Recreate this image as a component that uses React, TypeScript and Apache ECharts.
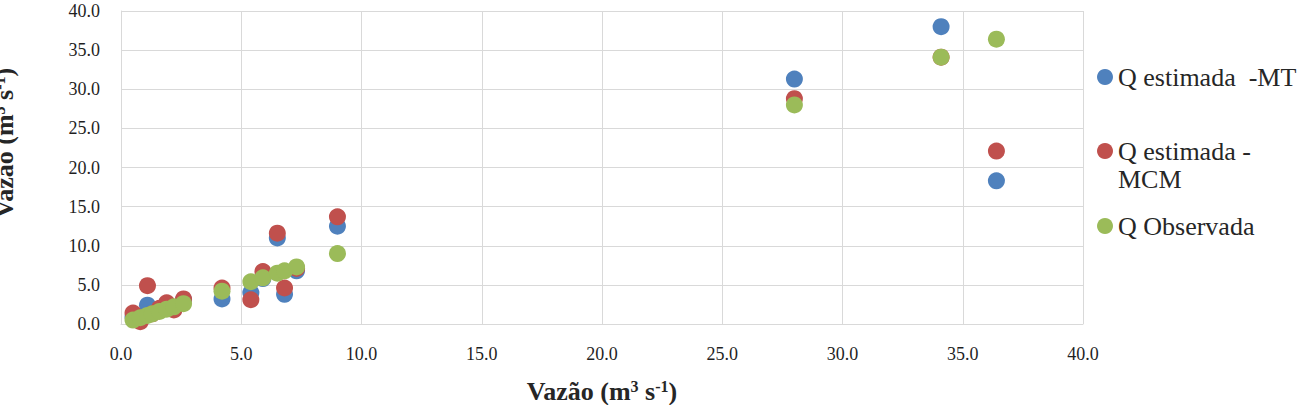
import React, { useEffect, useRef } from "react";
import * as echarts from "echarts";

// Observed discharge (x) and estimated discharges (y)
const obs = [0.5, 0.8, 1.1, 1.3, 1.6, 1.9, 2.2, 2.6, 4.2, 5.4, 5.9, 6.5, 6.8, 7.3, 9.0, 28.0, 34.1, 36.4];
const qMT = [0.9, 0.6, 2.4, 1.5, 1.8, 2.6, 1.9, 3.1, 3.2, 4.0, 5.8, 11.0, 3.8, 6.8, 12.5, 31.3, 38.0, 18.3];
const qMCM = [1.4, 0.3, 4.9, 1.3, 2.0, 2.7, 1.8, 3.2, 4.6, 3.1, 6.7, 11.6, 4.6, 7.1, 13.7, 28.8, 34.1, 22.1];
const qObs = [0.5, 0.8, 1.1, 1.3, 1.6, 1.9, 2.2, 2.6, 4.2, 5.4, 5.9, 6.5, 6.8, 7.3, 9.0, 28.0, 34.1, 36.4];

const seriesNames = ["Q estimada  -MT", "Q estimada - MCM", "Q Observada"];
const seriesColors = ["#4F81BD", "#C0504D", "#9BBB59"];
const axisTitle = "Vazão (m{sup|3} s{sup|-1})";

const FONT = "'Liberation Serif', serif";
const TEXT = "#262626";

export default function App() {
  const ref = useRef<HTMLDivElement>(null);
  useEffect(() => {
    if (!ref.current) return;
    const chart = echarts.init(ref.current, null, { renderer: "svg" });
    const pairs = (ys: number[]) => obs.map((x, i) => [x, ys[i]]);
    const titleRich = {
      sup: { fontSize: 16, fontWeight: "bold", fontFamily: FONT, color: TEXT, verticalAlign: "top", lineHeight: 16 },
    };
    const legRich = {
      a: { fontFamily: FONT, fontSize: 26, color: TEXT, lineHeight: 28 },
    };
    const legendBase = {
      orient: "vertical",
      left: 1097,
      padding: 0,
      icon: "circle",
      itemWidth: 16,
      itemHeight: 16,
      textStyle: { fontFamily: FONT, fontSize: 26, color: TEXT, lineHeight: 28, rich: legRich },
    };
    const tickLabel = {
      formatter: (v: number) => v.toFixed(1),
      fontFamily: FONT,
      fontSize: 18,
      color: "#1f1f1f",
    };
    chart.setOption({
      animation: false,
      backgroundColor: "#ffffff",
      grid: { left: 121, right: 228, top: 11, bottom: 81, containLabel: false, outerBoundsMode: "none" },
      legend: [
        { ...legendBase, data: [seriesNames[0]], top: 77 - 14, formatter: () => "{a|Q estimada  -MT}" },
        {
          ...legendBase,
          data: [seriesNames[1]],
          top: 151 - 42,
          formatter: () => "{a| }\n{a|Q estimada -}\n{a|MCM}",
        },
        { ...legendBase, data: [seriesNames[2]], top: 226 - 14, formatter: () => "{a|Q Observada}" },
      ],
      xAxis: {
        type: "value",
        min: 0,
        max: 40,
        interval: 5,
        name: axisTitle,
        nameLocation: "middle",
        nameGap: 54,
        nameTextStyle: { fontFamily: FONT, fontSize: 26, fontWeight: "bold", color: TEXT, rich: titleRich },
        axisLine: { show: true, lineStyle: { color: "#d9d9d9", width: 1 } },
        axisTick: { show: false },
        axisLabel: { ...tickLabel, margin: 21 },
        splitLine: { show: true, lineStyle: { color: "#d9d9d9", width: 1 } },
      },
      yAxis: {
        type: "value",
        min: 0,
        max: 40,
        interval: 5,
        axisLine: { show: true, lineStyle: { color: "#d9d9d9", width: 1 } },
        axisTick: { show: false },
        axisLabel: { ...tickLabel, margin: 21 },
        splitLine: { show: true, lineStyle: { color: "#d9d9d9", width: 1 } },
      },
      graphic: [
        {
          type: "text",
          x: 4,
          y: 143,
          rotation: Math.PI / 2,
          style: {
            text: axisTitle,
            fontFamily: FONT,
            fontSize: 26,
            fontWeight: "bold",
            fill: TEXT,
            align: "center",
            verticalAlign: "middle",
            rich: titleRich,
          },
        },
      ],
      series: [
        { name: seriesNames[0], type: "scatter", data: pairs(qMT), symbolSize: 17, itemStyle: { color: seriesColors[0], opacity: 1 } },
        { name: seriesNames[1], type: "scatter", data: pairs(qMCM), symbolSize: 17, itemStyle: { color: seriesColors[1], opacity: 1 } },
        { name: seriesNames[2], type: "scatter", data: pairs(qObs), symbolSize: 17, itemStyle: { color: seriesColors[2], opacity: 1 } },
      ],
    });
    return () => chart.dispose();
  }, []);
  return <div ref={ref} style={{ position: "absolute", left: 0, top: 0, width: 1311, height: 405 }} />;
}
